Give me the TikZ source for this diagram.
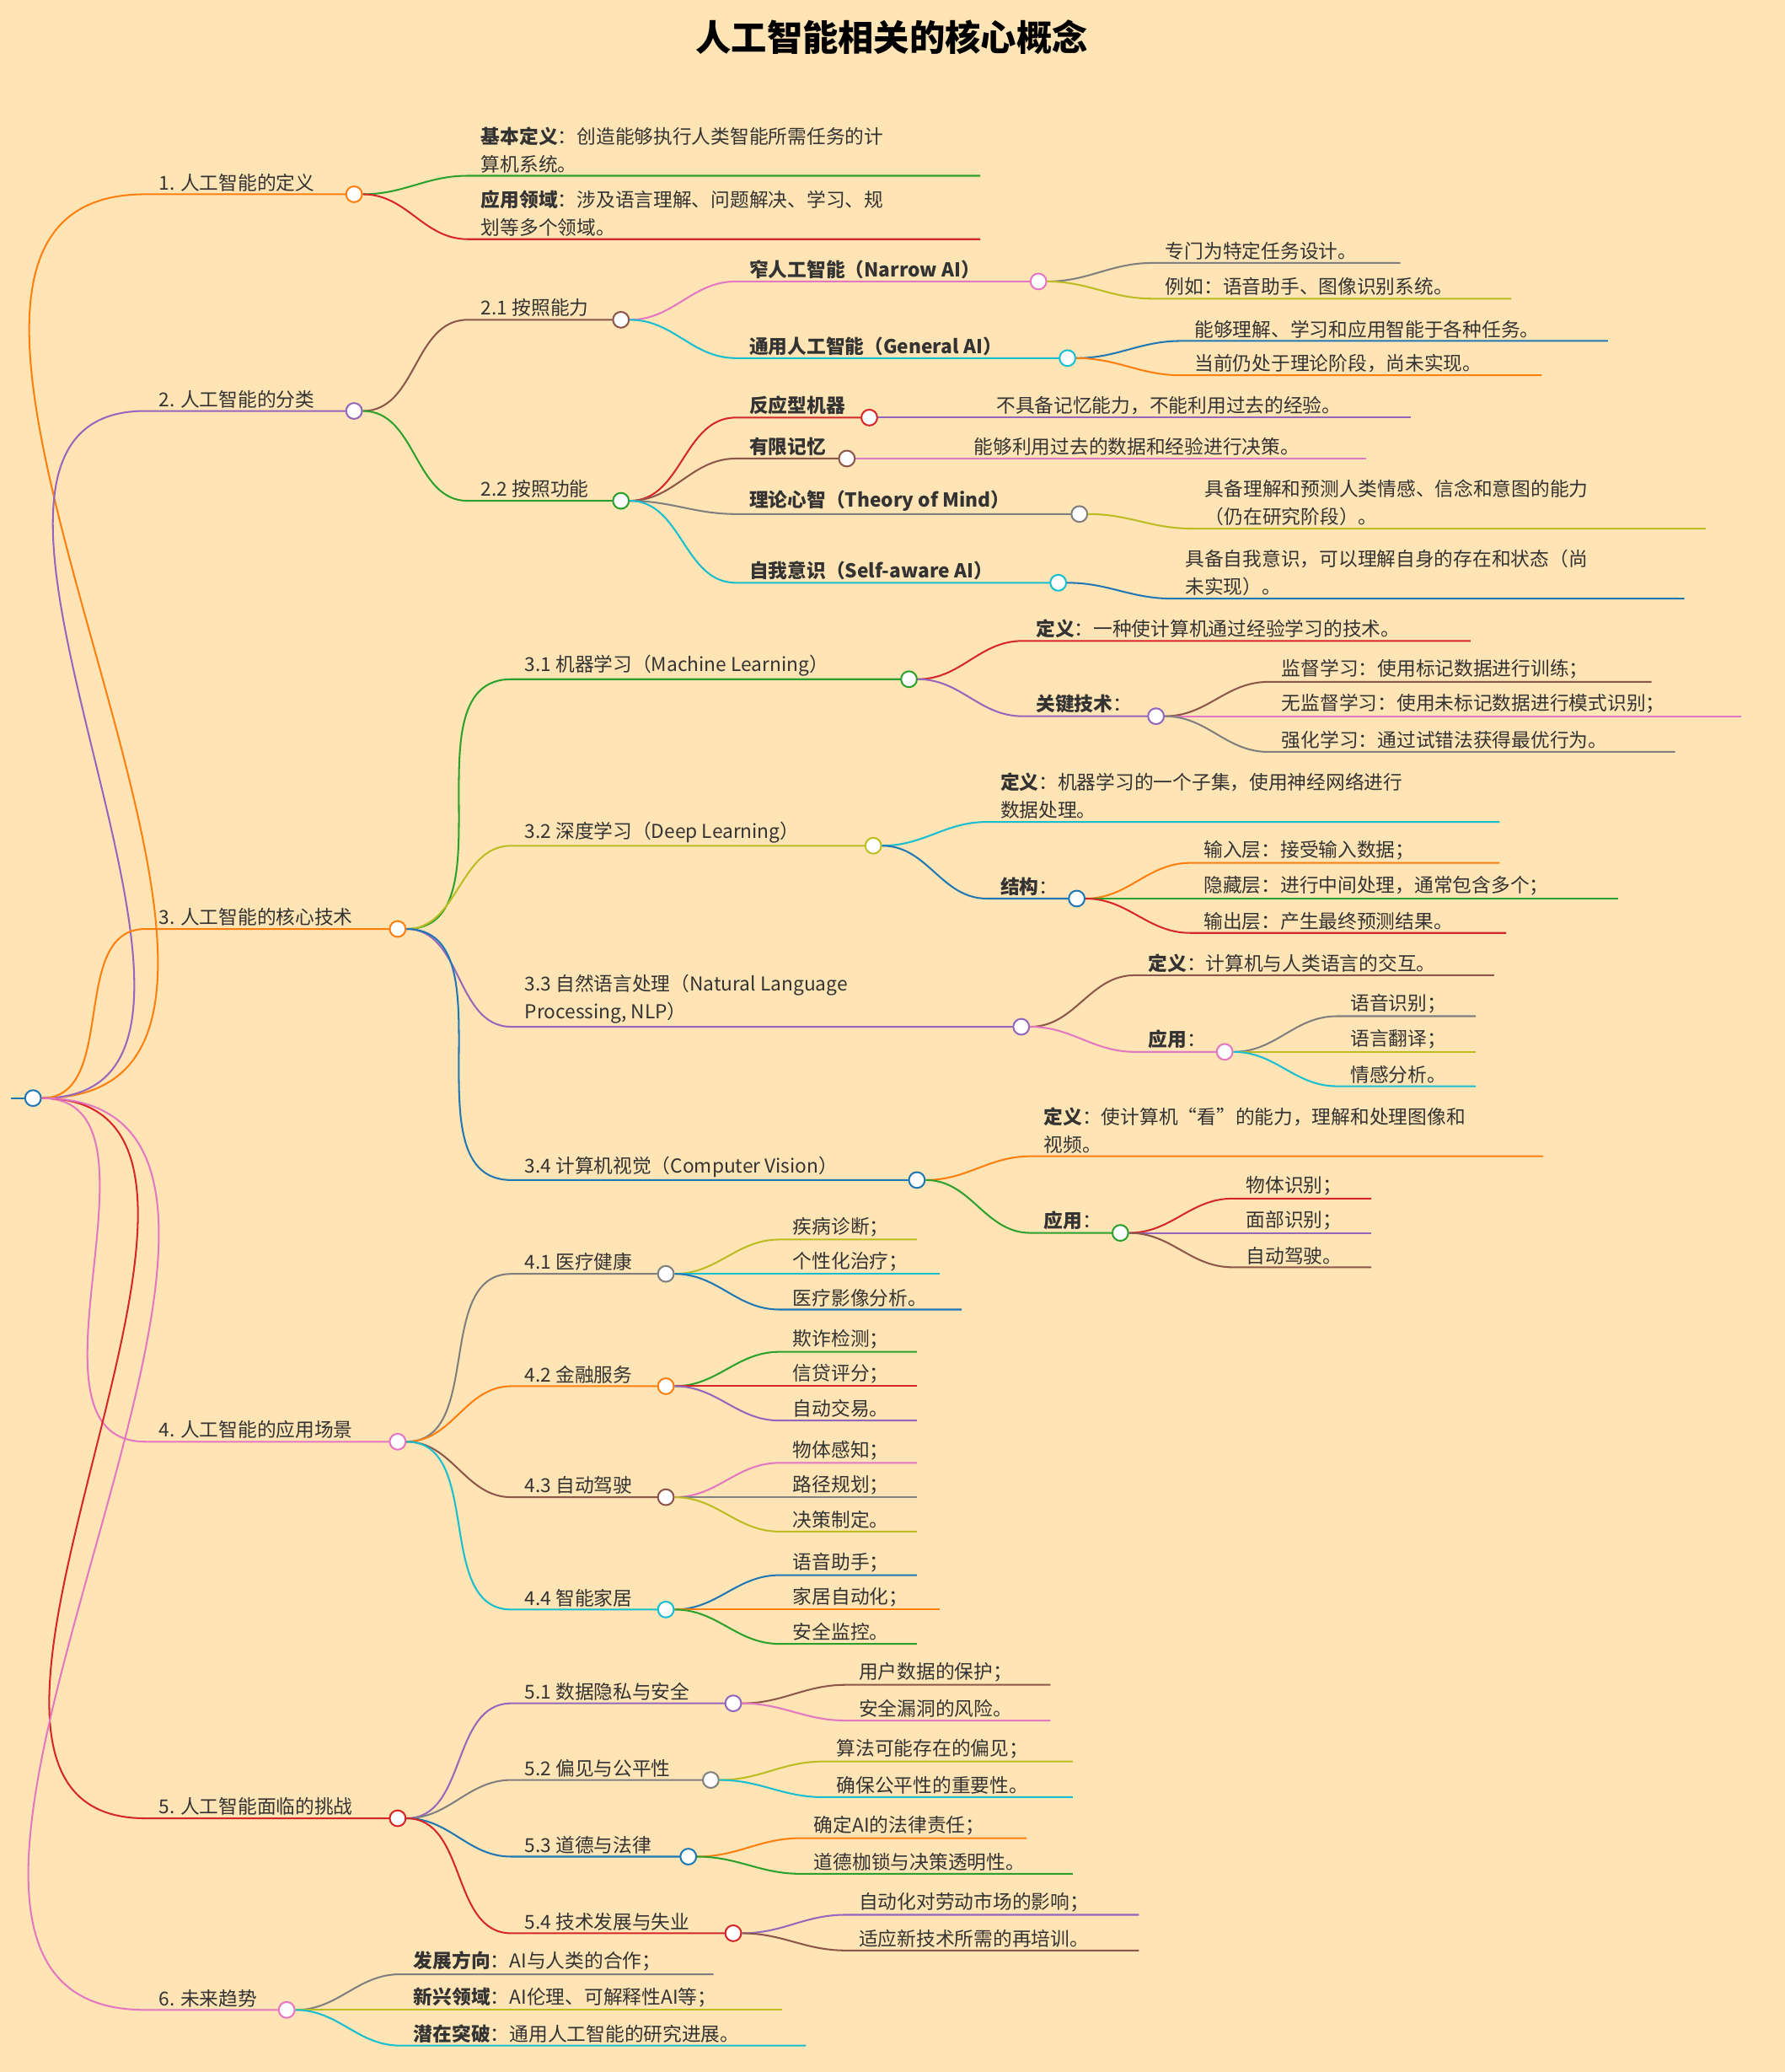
\documentclass[tikz,border=0pt]{standalone}
\usepackage{fontspec}
\setmainfont{Noto Sans CJK SC}
\usepackage{xcolor}
\definecolor{bg}{HTML}{FFE4B5}
\definecolor{ink}{HTML}{333333}
\definecolor{cblue}{HTML}{1F77B4}
\definecolor{corange}{HTML}{FF7F0E}
\definecolor{cgreen}{HTML}{2CA02C}
\definecolor{cred}{HTML}{D62728}
\definecolor{cpurple}{HTML}{9467BD}
\definecolor{cbrown}{HTML}{8C564B}
\definecolor{cpink}{HTML}{E377C2}
\definecolor{cgray}{HTML}{7F7F7F}
\definecolor{colive}{HTML}{BCBD22}
\definecolor{ccyan}{HTML}{17BECF}

% #1 name, #2 parent, #3 colour, #4 x, #5 y, #6 line end, #7 text
\newcommand\leaf[7]{%
  \draw[branch, #3] (#2.east) to[out=0,in=180] (#4-8,#5) -- (#6,#5);
  \node[label text] (#1) at (#4,#5) {#7};
  \coordinate (#1-e) at (#6,#5);
}
\newcommand\knot[2]{\node[knotdot, draw=#2] (#1-k) at (#1-e) {};}

\begin{document}
\begin{tikzpicture}[
  x=1pt, y=-1pt,
  font=\fontsize{14.5}{21}\selectfont,
  branch/.style={line width=1.3pt},
  label text/.style={anchor=south west, inner sep=2pt, align=left, text=ink},
  knotdot/.style={circle, fill=white, line width=1.3pt, inner sep=0pt, minimum size=12pt}
]
\fill[bg] (0,0) rectangle (1351,1568);
\useasboundingbox (0,0) rectangle (1351,1568);

\node[text=black, font=\fontsize{27}{30}\selectfont\bfseries] (title) at (675,28) {人工智能相关的核心概念};

% root
\coordinate (root-e) at (25,831);
\draw[branch, cblue] (8,831) -- (root-e);
\knot{root}{cblue}

% 1
\leaf{d1}{root-k}{corange}{118}{147}{268}{1. 人工智能的定义}\knot{d1}{corange}
\leaf{d1a}{d1-k}{cgreen}{362}{133}{742}{\textbf{基本定义}：创造能够执行人类智能所需任务的计\\算机系统。}
\leaf{d1b}{d1-k}{cred}{362}{181}{742}{\textbf{应用领域}：涉及语言理解、问题解决、学习、规\\划等多个领域。}

% 2
\leaf{d2}{root-k}{cpurple}{118}{311}{268}{2. 人工智能的分类}\knot{d2}{cpurple}
\leaf{ability}{d2-k}{cbrown}{362}{242}{470}{2.1 按照能力}\knot{ability}{cbrown}
\leaf{narrow}{ability-k}{cpink}{565}{213}{786}{\textbf{窄人工智能（Narrow AI）}}\knot{narrow}{cpink}
\leaf{narrowa}{narrow-k}{cgray}{880}{199}{1060}{专门为特定任务设计。}
\leaf{narrowb}{narrow-k}{colive}{880}{226}{1144}{例如：语音助手、图像识别系统。}
\leaf{general}{ability-k}{ccyan}{565}{271}{808}{\textbf{通用人工智能（General AI）}}\knot{general}{ccyan}
\leaf{generala}{general-k}{cblue}{902}{258}{1217}{能够理解、学习和应用智能于各种任务。}
\leaf{generalb}{general-k}{corange}{902}{284}{1167}{当前仍处于理论阶段，尚未实现。}
\leaf{function}{d2-k}{cgreen}{362}{379}{470}{2.2 按照功能}\knot{function}{cgreen}
\leaf{reactive}{function-k}{cred}{565}{316}{658}{\textbf{反应型机器}}\knot{reactive}{cred}
\leaf{reactivea}{reactive-k}{cpurple}{752}{316}{1068}{不具备记忆能力，不能利用过去的经验。}
\leaf{limited}{function-k}{cbrown}{565}{347}{641}{\textbf{有限记忆}}\knot{limited}{cbrown}
\leaf{limiteda}{limited-k}{cpink}{735}{347}{1034}{能够利用过去的数据和经验进行决策。}
\leaf{mind}{function-k}{cgray}{565}{389}{817}{\textbf{理论心智（Theory of Mind）}}\knot{mind}{cgray}
\leaf{minda}{mind-k}{colive}{910}{400}{1291}{具备理解和预测人类情感、信念和意图的能力\\（仍在研究阶段）。}
\leaf{self}{function-k}{ccyan}{565}{441}{801}{\textbf{自我意识（Self-aware AI）}}\knot{self}{ccyan}
\leaf{selfa}{self-k}{cblue}{895}{453}{1275}{具备自我意识，可以理解自身的存在和状态（尚\\未实现）。}

% 3
\leaf{d3}{root-k}{corange}{118}{703}{301}{3. 人工智能的核心技术}\knot{d3}{corange}
\leaf{ml}{d3-k}{cgreen}{395}{514}{688}{3.1 机器学习（Machine Learning）}\knot{ml}{cgreen}
\leaf{mla}{ml-k}{cred}{782}{485}{1113}{\textbf{定义}：一种使计算机通过经验学习的技术。}
\leaf{mlb}{ml-k}{cpurple}{782}{542}{875}{\textbf{关键技术}：}\knot{mlb}{cpurple}
\leaf{mlb1}{mlb-k}{cbrown}{968}{516}{1250}{监督学习：使用标记数据进行训练；}
\leaf{mlb2}{mlb-k}{cpink}{968}{542}{1318}{无监督学习：使用未标记数据进行模式识别；}
\leaf{mlb3}{mlb-k}{cgray}{968}{569}{1268}{强化学习：通过试错法获得最优行为。}
\leaf{dl}{d3-k}{colive}{395}{640}{661}{3.2 深度学习（Deep Learning）}\knot{dl}{colive}
\leaf{dla}{dl-k}{ccyan}{755}{622}{1135}{\textbf{定义}：机器学习的一个子集，使用神经网络进行\\数据处理。}
\leaf{dlb}{dl-k}{cblue}{755}{680}{815}{\textbf{结构}：}\knot{dlb}{cblue}
\leaf{dlb1}{dlb-k}{corange}{909}{653}{1135}{输入层：接受输入数据；}
\leaf{dlb2}{dlb-k}{cgreen}{909}{680}{1225}{隐藏层：进行中间处理，通常包含多个；}
\leaf{dlb3}{dlb-k}{cred}{909}{706}{1140}{输出层：产生最终预测结果。}
\leaf{nlp}{d3-k}{cpurple}{395}{777}{773}{3.3 自然语言处理（Natural Language\\Processing, NLP）}\knot{nlp}{cpurple}
\leaf{nlpa}{nlp-k}{cbrown}{867}{738}{1131}{\textbf{定义}：计算机与人类语言的交互。}
\leaf{nlpb}{nlp-k}{cpink}{867}{796}{927}{\textbf{应用}：}\knot{nlpb}{cpink}
\leaf{nlpb1}{nlpb-k}{cgray}{1020}{769}{1117}{语音识别；}
\leaf{nlpb2}{nlpb-k}{colive}{1020}{796}{1117}{语言翻译；}
\leaf{nlpb3}{nlpb-k}{ccyan}{1020}{822}{1117}{情感分析。}
\leaf{cv}{d3-k}{cblue}{395}{893}{694}{3.4 计算机视觉（Computer Vision）}\knot{cv}{cblue}
\leaf{cva}{cv-k}{corange}{788}{875}{1168}{\textbf{定义}：使计算机“看”的能力，理解和处理图像和\\视频。}
\leaf{cvb}{cv-k}{cgreen}{788}{933}{848}{\textbf{应用}：}\knot{cvb}{cgreen}
\leaf{cvb1}{cvb-k}{cred}{941}{907}{1038}{物体识别；}
\leaf{cvb2}{cvb-k}{cpurple}{941}{933}{1038}{面部识别；}
\leaf{cvb3}{cvb-k}{cbrown}{941}{959}{1038}{自动驾驶。}

% 4
\leaf{d4}{root-k}{cpink}{118}{1091}{301}{4. 人工智能的应用场景}\knot{d4}{cpink}
\leaf{med}{d4-k}{cgray}{395}{964}{504}{4.1 医疗健康}\knot{med}{cgray}
\leaf{med1}{med-k}{colive}{598}{938}{694}{疾病诊断；}
\leaf{med2}{med-k}{ccyan}{598}{964}{711}{个性化治疗；}
\leaf{med3}{med-k}{cblue}{598}{991}{728}{医疗影像分析。}
\leaf{fin}{d4-k}{corange}{395}{1049}{504}{4.2 金融服务}\knot{fin}{corange}
\leaf{fin1}{fin-k}{cgreen}{598}{1023}{694}{欺诈检测；}
\leaf{fin2}{fin-k}{cred}{598}{1049}{694}{信贷评分；}
\leaf{fin3}{fin-k}{cpurple}{598}{1075}{694}{自动交易。}
\leaf{car}{d4-k}{cbrown}{395}{1133}{504}{4.3 自动驾驶}\knot{car}{cbrown}
\leaf{car1}{car-k}{cpink}{598}{1107}{694}{物体感知；}
\leaf{car2}{car-k}{cgray}{598}{1133}{694}{路径规划；}
\leaf{car3}{car-k}{colive}{598}{1159}{694}{决策制定。}
\leaf{home}{d4-k}{ccyan}{395}{1218}{504}{4.4 智能家居}\knot{home}{ccyan}
\leaf{home1}{home-k}{cblue}{598}{1192}{694}{语音助手；}
\leaf{home2}{home-k}{corange}{598}{1218}{711}{家居自动化；}
\leaf{home3}{home-k}{cgreen}{598}{1244}{694}{安全监控。}

% 5
\leaf{d5}{root-k}{cred}{118}{1376}{301}{5. 人工智能面临的挑战}\knot{d5}{cred}
\leaf{priv}{d5-k}{cpurple}{395}{1289}{555}{5.1 数据隐私与安全}\knot{priv}{cpurple}
\leaf{priv1}{priv-k}{cbrown}{648}{1275}{795}{用户数据的保护；}
\leaf{priv2}{priv-k}{cpink}{648}{1302}{795}{安全漏洞的风险。}
\leaf{bias}{d5-k}{cgray}{395}{1347}{538}{5.2 偏见与公平性}\knot{bias}{cgray}
\leaf{bias1}{bias-k}{colive}{631}{1333}{812}{算法可能存在的偏见；}
\leaf{bias2}{bias-k}{ccyan}{631}{1360}{812}{确保公平性的重要性。}
\leaf{law}{d5-k}{cblue}{395}{1405}{521}{5.3 道德与法律}\knot{law}{cblue}
\leaf{law1}{law-k}{corange}{614}{1391}{777}{确定AI的法律责任；}
\leaf{law2}{law-k}{cgreen}{614}{1418}{812}{道德枷锁与决策透明性。}
\leaf{job}{d5-k}{cred}{395}{1463}{555}{5.4 技术发展与失业}\knot{job}{cred}
\leaf{job1}{job-k}{cpurple}{648}{1449}{862}{自动化对劳动市场的影响；}
\leaf{job2}{job-k}{cbrown}{648}{1476}{862}{适应新技术所需的再培训。}

% 6
\leaf{d6}{root-k}{cpink}{118}{1521}{217}{6. 未来趋势}\knot{d6}{cpink}
\leaf{d6a}{d6-k}{cgray}{311}{1494}{540}{\textbf{发展方向}：AI与人类的合作；}
\leaf{d6b}{d6-k}{colive}{311}{1521}{592}{\textbf{新兴领域}：AI伦理、可解释性AI等；}
\leaf{d6c}{d6-k}{ccyan}{311}{1548}{610}{\textbf{潜在突破}：通用人工智能的研究进展。}
\end{tikzpicture}
\end{document}
